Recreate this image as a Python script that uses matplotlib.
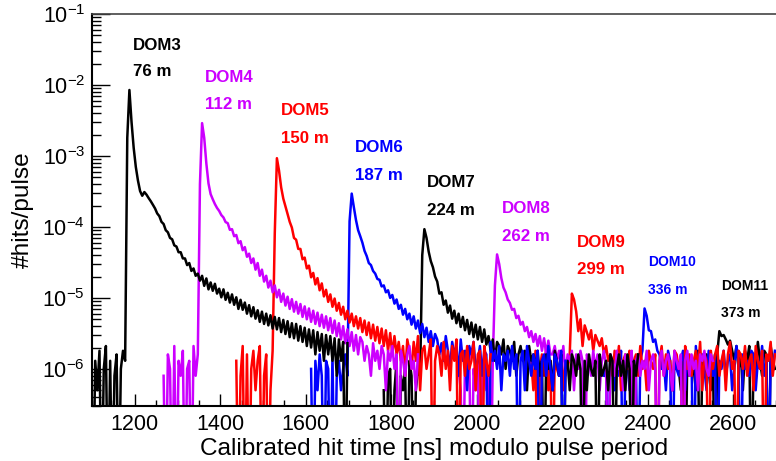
import numpy as np
import matplotlib
matplotlib.use("Agg")
import matplotlib.pyplot as plt
from matplotlib.ticker import LogLocator, MultipleLocator, NullFormatter

plt.rcParams['font.family'] = ['Liberation Sans', 'DejaVu Sans']
plt.rcParams['mathtext.fontset'] = 'custom'
plt.rcParams['mathtext.rm'] = 'Liberation Sans'
plt.rcParams['mathtext.it'] = 'Liberation Sans:italic'
plt.rcParams['mathtext.bf'] = 'Liberation Sans:bold'

# hits/pulse per 5 ns bin, in units of 1e-6, each DOM starting at its own window
bin_ns = 5
doms = ['DOM3', 'DOM4', 'DOM5', 'DOM6', 'DOM7', 'DOM8', 'DOM9', 'DOM10', 'DOM11']
depths = ['76 m', '112 m', '150 m', '187 m', '224 m', '262 m', '299 m', '336 m', '373 m']
starts = [1100, 1265, 1435, 1610, 1780, 1955, 2125, 2295, 2470]
colors = ['black', '#cc00ff', 'red', 'blue', 'black', '#cc00ff', 'red', 'blue', 'black']

dom3 = [0, 1.3, .5, 1.8, 0, 1, 2.1, 0, 1.3, 0, .8, 1.6, 0, 1, 1.8, 1.3,
        1800, 8500, 3000, 1300, 700, 450, 320, 275, 310, 285,
        255, 230, 205, 182, 155, 142, 118, 110, 90, 84, 70, 67, 55, 53, 44, 44, 36, 36, 29, 31,
        24, 26, 20.5, 22, 17.5,
        20.5, 14.8, 18.8, 13.2, 16.5, 12.6, 15.8, 11.5, 13.5, 10.2, 13.2, 9.4, 11.8, 8.6, 11.2, 8, 10.2, 7, 9.4, 6.8,
        8.6, 6, 7.9, 5.5, 7.4, 5.1, 6.7, 4.6, 6.4, 4.3, 6, 4.1, 5.7, 3.7, 5.4, 3.6, 5.2, 3.3, 4.9, 3.1,
        4.7, 2.8, 4.4, 2.7, 4.3, 2.5, 4, 2.4, 3.8, 2.1, 3.6, 2, 3.5, 1.6, 3.3, 1.8, 3.1, 1.3, 3, 1.6,
        2.9, 1.3, 2.7, .8, 2.6, 1.3, 2.4, 0, 2.3]
dom4 = [.8, 0, 1.6, 1, 0, 2.1, 0, 1.3, .8, 1.8, 0, 1, 1.3, 0, 2.1, .8, 1.6,
        400, 2900, 1800, 780, 410, 290, 245, 210, 185, 168, 147, 136, 117, 113, 91, 93, 74, 77, 59, 63,
        47, 52, 38, 42, 31, 36, 25, 31, 20.5, 25, 17, 20.5, 14, 17.5, 12, 15, 10.2, 13, 8.8, 11.5,
        7.8, 10.4, 7, 9.6, 6.4, 8.8, 6, 8.2, 5.4, 7.6, 5, 7.1, 4.6, 6.6, 4.3, 6.2, 4, 5.8, 3.8, 5.5,
        3.5, 5.2, 3.2, 4.8, 2.9, 4.4, 2.6, 4, 2.3, 3.6, 2.1, 3.3, 1.8, 3, 1.6, 2.8,
        2.4, 1.3, 2.1, 1.6, .8, 2.3, 1.3, 1.8, 1, 2.1, 1.6, .5, 1.8, 1.3, 2.1, 1, 1.6, 0, 1.8, 1.3,
        .8, 1.6, 2.1, 1, 1.3, .5, 1.6]
dom5 = [1.3, 0, .8, 2.1, 0, 1.6, 0, 1, 1.8, .5, 1.3, 2.1, 0, .8, 1.6, 0, .5, 1.8,
        80, 930, 620, 360, 250, 195, 152, 118, 98, 70, 66, 49, 49, 35, 37, 26, 28.5, 19.5, 22.5, 15.5,
        19, 12.8, 16, 10.5, 13, 8.8, 11.2, 7.5, 9.8, 6.6, 8.5, 5.8, 7.5, 5, 6.6, 4.5, 6, 4, 5.5, 3.7,
        5.2, 3.3, 4.8, 3, 4.5, 2.7, 4.2, 2.5, 3.9, 2.3, 3.7, 2.1, 3.5, 1.8, 3.2, 1.6,
        2.9, 1.6, 2.4, 1.3, 2.1, .8, 2.6, 1.8, 1, 2.4, 1.3, 2.9, .5, 1.8, 2.1, 1, 1.6, 2.6, 0, 1.3,
        2.1, 1.6, .8, 2.4, 1, 1.8, .5, 2.1, 1.3, 2.6, 0, 1.6, 1.8, .8, 2.1, 1, 1.3, 2.4, .5, 1.6,
        1.8, 0, 2.1, 1.3, .8, 1.6]
dom6 = [1, 0, 1.3, .5, 1.6, .8, 0, 1.3, 1, 0, 1.6, 0, .8, 1.3, .5, 1, 1.6, .8,
        120, 295, 190, 125, 90, 74, 60, 46, 39, 31, 29, 24, 22, 18.5, 18, 14.5, 15, 12, 12.8, 10,
        11, 8.3, 9.5, 7, 8, 5.8, 7, 5, 6, 4.2, 5.5, 3.7, 4.8, 3.2, 4.3, 2.8, 3.8, 2.4, 3.4, 2.1, 3.1,
        2.6, 1.6, 2.3, 1.3, 2.9, 1.8, 1, 2.4, 1.6, 2.1, .8, 2.6, 1.3, 1.8, .5, 2.1, 1.6, 2.4, 1, 1.3,
        2.1, .8, 1.8, 1.6, 0, 2.4, 1.3, 1.8, 1, 2.1, .5, 1.6, 1.3, 1.8, .8, 2.1, 1, 1.6, 0, 1.3,
        1.8, .5, 2.1, 1.3, .8, 1.6, 1, 1.8, 0, 1.3, 1.6, .8, 2.1, 1, .5, 1.6, 1.3, .8, 1.8, 0, 1.3]
dom7 = [.5, 0, .8, 1, 0, .5, 1.3, 0, .8, .5, 1, 0, 1.3, .8, 0, .5, 1, .8,
        40, 93, 70, 45, 33, 27, 20, 17, 11.5, 12, 8, 9.2, 6.2, 7.8, 5.1, 6.6, 4.4, 6, 3.9, 5.4,
        3.5, 4.9, 3.1, 4.5, 2.8, 4.2, 2.6, 3.9, 2.4, 3.6, 2.2,
        2.9, 1.8, 2.6, 1.3, 2.4, 2.1, 1.6, 2.6, 1, 2.1, 1.8, 1.3, 2.4, .8, 1.6, 2.1, 1.3, 1.8, .5, 2.1,
        1.3, 1.6, 1, 1.8, .8, 1.3, 0, 1.6, 1, 1.3, .5, 1.8, 1.3, .8, 1.6, 0, 1, 1.3, .5, 1.6,
        1.3, .8, 1.6, 1, 0, 1.3, .5, 1.6, 1, .8, 1.3, 0, 1.6, .8, 1, 1.3, .5, 1.6, 1.3, 0,
        1, 1.6, .8, 1.3, .5, 1.6, 1, 0, 1.3, .8, 1.6]
dom8 = [1, .5, 0, 1.3, .8, 1.6, 0, 1, .5, 1.3, 0, .8, 1.6, .5, 1, 0, 1.3,
        15, 41, 30, 19, 14, 12, 9.5, 8.5, 6.8, 7, 5.2, 5.6, 4.2, 4.6, 3.4, 3.9, 2.8, 3.4, 2.4, 3.1,
        2.1, 2.9, 1.8, 2.7, 1.6, 2.5, 1.6,
        1.6, 2.1, 1.3, 1.8, 1, 2.1, .8, 1.6, 1.3, 1.8, .5, 1.6, 1, 1.8, 1.3, 0, 1.6, 1.3, .8, 1.8,
        1, 1.6, .5, 1.3, 1.8, 1, 0, 1.6, 1.3, .8, 1.8, 1, 1.3, .5, 1.6, 1.3, 1, 1.8, 0, 1.3,
        1.6, .8, 1.3, 1, 1.8, .5, 1.3, 1.6, 1, 0, 1.3, 1.8, .8, 1.3, 1.6, 1, .5, 1.8, 1.3, 1,
        1.6, 0, 1.3, 1.8, .8, 1.6, 1, 1.3, .5, 1.6, 1.3, 1.8, 1, .8, 1.6, 1.3]
dom9 = [1.3, .5, 1.8, 0, 1, 1.6, .8, 2.1, .5, 1.3, 0, 1.6, 1, .8, 1.8, .5, 1.3, 1, 1.6,
        11.5, 9.5, 6.5, 3.4, 5, 2.1, 4.1, 3.3, 2.6, 3.5, 1.8, 3, 2.5, 2.1, 2.7, 1.6,
        2.1, 1.3, 1.6, .8, 1.8, 1, 2.1, .5, 1.3, 1.6, 1, 1.8, 0, 1.3, 1.6, .8, 2.1, 1, 1.3, .5,
        1.8, 1.3, 1, 1.6, 0, 1.3, 2.1, .8, 1.6, 1, 1.3, .5, 1.8, 1.6, 1, 1.3, 0, 2.1, 1, 1.6,
        .8, 1.3, 1.8, 1, 2.4, .5, 1.6, 1.3, 0, 1.8, 1, 1.6, 2.1, .8, 1.3, 1.8, .5, 1.6, 2.4, 1,
        1.3, 0, 1.8, 1.6, 1, 2.1, .8, 1.3, 1.6, .5, 2.1, 1.3, 1, 1.8, 0, 1.6, 1.3, 2.4, .8, 1.6]
dom10 = [.8, 1.3, 0, 1.6, 1, .5, 1.3, .8, 1.8, 0, 1, 1.3, .5, 1.6, .8, 1, 0, 1.3, 1.8,
         7.1, 5.6, 3.5, 3.4, 2.4, 2.6, 1.8,
         1.6, 1, 1.3, .5, 1.8, 1.3, 0, 1.6, 1, .8, 1.3, 1.8, .5, 1.6, 1, 1.3, 0, 2.1, .8, 1.3,
         1.6, 1, .5, 1.8, 1.3, .8, 1.6, 0, 1.3, 1, 1.8, .8, 1.3, 1.6, .5, 1, 2.1, 1.3, 0, 1.6,
         1, 1.3, .8, 1.8, 1.6, .5, 1.3, 1, 2.1, .8, 1.3, 0, 1.6, 1, 1.8]
dom11 = [1, .5, 1.3, 0, 1.6, .8, 1.3, 1, .5, 1.8, 0, 1.3, .8, 1.6, 1, .5, 1.3, 0, 1.6,
         3.4, 2.9, 3, 2.6, 2.2, 2.5, 1.8,
         1.3, 2.1, 1, 1.6, .5, 1.8, 1.3, 2.1, 0, 1.6, 1, 2.4, 1.3, .8, 1.8, 1.6, 0, 2.1, 1.3, 1]
series = [dom3, dom4, dom5, dom6, dom7, dom8, dom9, dom10, dom11]

# label anchors (ns, hits/pulse) for the DOM name and its depth
label_x = [1195, 1364, 1542, 1715, 1884, 2058, 2235, 2401, 2572]
label_name_y = [3.1e-2, 1.1e-2, 3.8e-3, 1.14e-3, 3.66e-4, 1.57e-4, 5.2e-5, 2.8e-5, 1.3e-5]
label_depth_y = [1.34e-2, 4.6e-3, 1.52e-3, 4.6e-4, 1.48e-4, 6.4e-5, 2.18e-5, 1.14e-5, 5.4e-6]
label_size = [12.2, 12.2, 12.2, 12.2, 12.2, 12.2, 12.2, 10, 10]

fig = plt.figure(figsize=(7.76, 4.61), dpi=100)
ax = fig.add_axes([92 / 776, 55 / 461, 684 / 776, 392 / 461])
ax.set_yscale('log', nonpositive='clip')

# first DOM ends up on top; empty bins drop below the axis floor
for vals, start, col in reversed(list(zip(series, starts, colors))):
    y = np.array(vals) * 1e-6
    y = np.where(y > 0, y, 1e-8)
    x = start + bin_ns * (np.arange(len(y)) + 0.5)
    ax.plot(x, y, color=col, lw=1.8)

for name, depth, x, yn, yd, col, fs in zip(doms, depths, label_x, label_name_y,
                                           label_depth_y, colors, label_size):
    ax.text(x, yn, name, color=col, fontsize=fs, fontweight='bold', ha='left', va='baseline')
    ax.text(x, yd, depth, color=col, fontsize=fs, fontweight='bold', ha='left', va='baseline')

ax.set_xlim(1100, 2700)
ax.set_ylim(3e-7, 0.1)

ax.xaxis.set_major_locator(MultipleLocator(200))
ax.xaxis.set_minor_locator(MultipleLocator(50))
ax.yaxis.set_major_locator(LogLocator(base=10, numticks=10))
ax.yaxis.set_minor_locator(LogLocator(base=10, subs=np.arange(2, 10), numticks=20))
ax.yaxis.set_minor_formatter(NullFormatter())

ax.tick_params(which='both', direction='in', top=False, right=False, width=1, labelsize=15.5)
ax.tick_params(axis='x', which='major', length=8.6, pad=6)
ax.tick_params(axis='x', which='minor', length=4.3)
ax.tick_params(axis='y', which='major', length=13, pad=5)
ax.tick_params(axis='y', which='minor', length=6.5)

for side in ['left', 'bottom']:
    ax.spines[side].set_linewidth(1.5)
ax.spines['top'].set_color('#444444')
ax.spines['top'].set_linewidth(1.2)
ax.spines['right'].set_visible(False)

ax.set_xlabel('Calibrated hit time [ns] modulo pulse period', fontsize=17.6, labelpad=2)
ax.set_ylabel('#hits/pulse', fontsize=17.6, labelpad=6)

fig.savefig('out.png', dpi=100)
